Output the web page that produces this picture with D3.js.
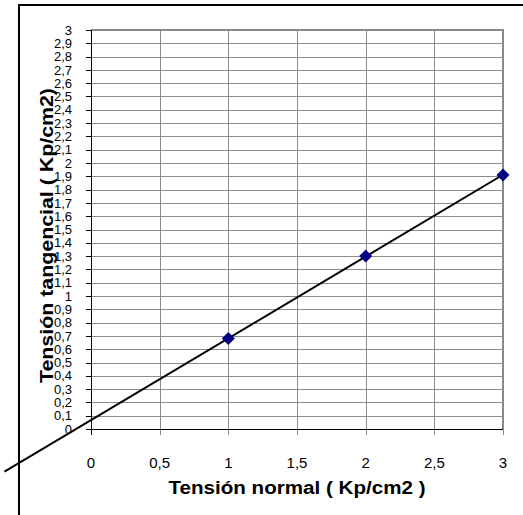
<!DOCTYPE html>
<html><head><meta charset="utf-8">
<script src="https://cdn.jsdelivr.net/npm/d3@7"></script>
<style>body{margin:0;background:#fff}svg{display:block}</style>
</head><body>
<script>
const xValues = [1, 2, 3];
const yValues = [0.68, 1.30, 1.91];
const xTicks = [0, 0.5, 1, 1.5, 2, 2.5, 3];
const yTicks = d3.range(0, 31).map(i => +(i / 10).toFixed(1));
const xTitle = "Tensión normal ( Kp/cm2 )";
const yTitle = "Tensión tangencial ( Kp/cm2)";
const fmt = v => String(v).replace('.', ',');

const W = 523, H = 515;
const svg = d3.select('body').append('svg').attr('width', W).attr('height', H);
const L = 91, R = 503, T = 30, B = 429;
const x = d3.scaleLinear().domain([0, 3]).range([L, R]);
const y = d3.scaleLinear().domain([0, 3]).range([B, T]);

// outer border
svg.append('rect').attr('x', 19).attr('y', 5).attr('width', 520).attr('height', 520)
  .attr('fill', 'none').attr('stroke', '#000').attr('stroke-width', 2);

const g = svg.append('g').attr('shape-rendering', 'crispEdges');
// horizontal gridlines
g.selectAll('.hg').data(yTicks.slice(1)).join('line')
  .attr('x1', L).attr('x2', R).attr('y1', d => Math.round(y(d)) + 0.5).attr('y2', d => Math.round(y(d)) + 0.5)
  .attr('stroke', '#8c8c8c').attr('stroke-width', 1);
// vertical gridlines
g.selectAll('.vg').data(xTicks.slice(1)).join('line')
  .attr('y1', T).attr('y2', B + 6).attr('x1', d => Math.round(x(d)) + 0.5).attr('x2', d => Math.round(x(d)) + 0.5)
  .attr('stroke', '#8c8c8c').attr('stroke-width', 1);
// top/right plot border
g.append('path').attr('d', `M${L},${T} H${R} V${B}`).attr('fill', 'none')
  .attr('stroke', '#888').attr('stroke-width', 2);
// y ticks
g.selectAll('.yt').data(yTicks).join('line')
  .attr('x1', L - 5).attr('x2', L).attr('y1', d => Math.round(y(d)) + 0.5).attr('y2', d => Math.round(y(d)) + 0.5)
  .attr('stroke', '#000');
// x tick at 0
g.append('line').attr('x1', L + 0.5).attr('x2', L + 0.5).attr('y1', B).attr('y2', B + 6).attr('stroke', '#000');
// axes
g.append('line').attr('x1', L + 0.5).attr('x2', L + 0.5).attr('y1', T).attr('y2', B + 1).attr('stroke', '#000');
g.append('line').attr('x1', L).attr('x2', R).attr('y1', B + 0.5).attr('y2', B + 0.5).attr('stroke', '#000');

// y tick labels
svg.selectAll('.yl').data(yTicks).join('text')
  .attr('x', 72).attr('y', d => y(d)).attr('dy', '0.36em').attr('text-anchor', 'end')
  .attr('font-family', 'Liberation Sans, Arial, sans-serif').attr('font-size', 13).attr('fill', '#000')
  .text(fmt);
// x tick labels
svg.selectAll('.xl').data(xTicks).join('text')
  .attr('x', d => x(d)).attr('y', 467.5).attr('text-anchor', 'middle')
  .attr('font-family', 'Liberation Sans, Arial, sans-serif').attr('font-size', 15).attr('fill', '#000')
  .text(fmt);

// trendline (least squares), extended backward
const n = xValues.length;
const mx = d3.mean(xValues), my = d3.mean(yValues);
const slope = d3.sum(xValues.map((v, i) => (v - mx) * (yValues[i] - my))) / d3.sum(xValues.map(v => (v - mx) ** 2));
const icpt = my - slope * mx;
const x0 = -0.63, x1 = 3;
svg.append('line').attr('x1', x(x0)).attr('y1', y(icpt + slope * x0)).attr('x2', x(x1)).attr('y2', y(icpt + slope * x1))
  .attr('stroke', '#000').attr('stroke-width', 2);

// markers
svg.selectAll('.pt').data(xValues).join('path')
  .attr('transform', (d, i) => `translate(${x(d)},${y(yValues[i])})`)
  .attr('d', 'M0,-6.5L6.5,0L0,6.5L-6.5,0Z').attr('fill', '#000080');

// titles
svg.append('text').attr('x', (L + R) / 2).attr('y', 494).attr('text-anchor', 'middle')
  .attr('font-family', 'Liberation Sans, Arial, sans-serif').attr('font-weight', 'bold').attr('font-size', 18)
  .attr('textLength', 257).attr('lengthAdjust', 'spacingAndGlyphs').text(xTitle);
svg.append('text').attr('transform', 'translate(53,235.5) rotate(-90)').attr('text-anchor', 'middle')
  .attr('font-family', 'Liberation Sans, Arial, sans-serif').attr('font-weight', 'bold').attr('font-size', 18)
  .attr('textLength', 295).attr('lengthAdjust', 'spacingAndGlyphs').text(yTitle);
</script>
</body></html>
